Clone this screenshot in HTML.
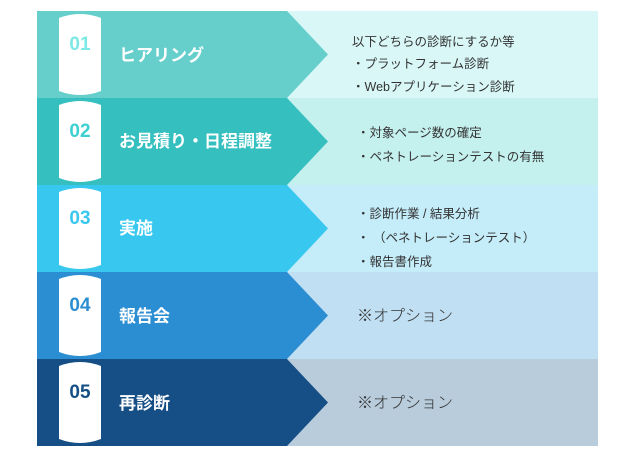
<!DOCTYPE html>
<html><head><meta charset="utf-8"><style>
html,body{margin:0;padding:0;background:#fff;width:633px;height:456px;overflow:hidden}
svg{position:absolute;left:0;top:0}
.t{position:absolute;font-family:"Liberation Sans","Noto Sans CJK JP",sans-serif;white-space:nowrap}
.n{font-size:19px;font-weight:bold;width:42px;text-align:center;left:59px;line-height:24px}
.h{left:119px;font-size:17px;font-weight:bold;color:#fff;line-height:24px}
.d{font-size:12.5px;color:#333;line-height:16px}
.o{font-size:16px;color:#333;line-height:20px;left:357px}
</style></head><body>
<svg width="633" height="456">
<rect x="287" y="11" width="311" height="87" fill="#d9f7f7"/>
<rect x="287" y="98" width="311" height="87" fill="#c4f0ee"/>
<rect x="287" y="185" width="311" height="87" fill="#c4ecf9"/>
<rect x="287" y="272" width="311" height="87" fill="#c0dff2"/>
<rect x="287" y="359" width="311" height="87" fill="#b8ccdb"/>
<polygon points="37,11 287,11 328,54.5 287,98 37,98" fill="#66cfcc"/>
<polygon points="37,98 287,98 328,141.5 287,185 37,185" fill="#35bfbf"/>
<polygon points="37,185 287,185 328,228.5 287,272 37,272" fill="#38c8ef"/>
<polygon points="37,272 287,272 328,315.5 287,359 37,359" fill="#2b8ed2"/>
<polygon points="37,359 287,359 328,402.5 287,446 37,446" fill="#154f85"/>
<g fill="#fff">
<path d="M59,18 Q80,10 101,18 L101,91 Q80,99 59,91 Z"/>
<path d="M59,105 Q80,97 101,105 L101,178 Q80,186 59,178 Z"/>
<path d="M59,192 Q80,184 101,192 L101,265 Q80,273 59,265 Z"/>
<path d="M59,279 Q80,271 101,279 L101,352 Q80,360 59,352 Z"/>
<path d="M59,366 Q80,358 101,366 L101,439 Q80,447 59,439 Z"/>
</g>
</svg>
<div class="t n" style="top:33px;color:#7de8e4">01</div>
<div class="t n" style="top:120px;color:#3cd0d0">02</div>
<div class="t n" style="top:207px;color:#38c8ef">03</div>
<div class="t n" style="top:294px;color:#2b8ed2">04</div>
<div class="t n" style="top:381px;color:#154f85">05</div>
<div class="t h" style="top:44px">ヒアリング</div>
<div class="t h" style="top:130px">お見積り・日程調整</div>
<div class="t h" style="top:217px">実施</div>
<div class="t h" style="top:305px">報告会</div>
<div class="t h" style="top:392px">再診断</div>
<div class="t d" style="left:352px;top:34px">以下どちらの診断にするか等</div>
<div class="t d" style="left:352px;top:56px">・プラットフォーム診断</div>
<div class="t d" style="left:352px;top:79px">・Webアプリケーション診断</div>
<div class="t d" style="left:357px;top:125px">・対象ページ数の確定</div>
<div class="t d" style="left:357px;top:149px">・ペネトレーションテストの有無</div>
<div class="t d" style="left:357px;top:206px">・診断作業 / 結果分析</div>
<div class="t d" style="left:357px;top:230px">・ （ペネトレーションテスト）</div>
<div class="t d" style="left:357px;top:254px">・報告書作成</div>
<div class="t o" style="top:307px;font-weight:300">※オプション</div>
<div class="t o" style="top:394px;font-weight:300">※オプション</div>
</body></html>
